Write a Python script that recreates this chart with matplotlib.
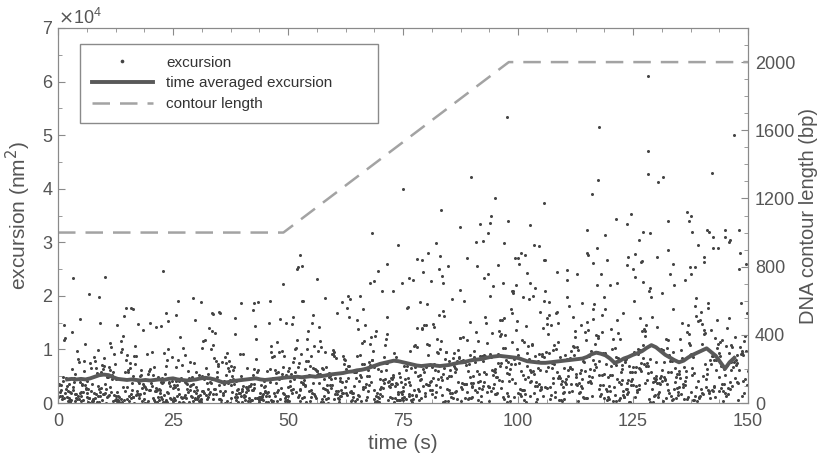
import matplotlib.pyplot as plt
import numpy as np
from matplotlib.ticker import MultipleLocator, ScalarFormatter

plt.rcParams['font.family'] = ['Liberation Sans', 'DejaVu Sans']

# excursion samples, units of 100 nm^2, 10 samples per second, one list per 25 s
exc_0_25 = [
    12, 3, 58, 27, 8, 104, 19, 41, 2, 66, 15, 33, 7, 150, 22, 5, 72, 38, 11, 95, 1, 29, 49, 17, 36,
    6, 81, 24, 13, 44, 0, 118, 31, 9, 55, 20, 4, 63, 35, 16, 88, 10, 26, 2, 141, 39, 14, 52, 21, 7,
    30, 11, 76, 3, 43, 18, 99, 25, 6, 60, 13, 37, 1, 84, 23, 47, 9, 125, 28, 16, 68, 4, 34, 19, 57,
    8, 40, 15, 92, 27, 2, 51, 21, 110, 12, 32, 5, 70, 17, 42, 0, 163, 24, 10, 61, 36, 14, 79, 3, 46,
    20, 6, 54, 31, 13, 87, 1, 26, 45, 9, 132, 18, 38, 4, 65, 22, 11, 97, 29, 7, 48, 16, 74, 2, 35,
    14, 59, 3, 28, 106, 19, 41, 8, 67, 24, 0, 50, 12, 36, 178, 5, 82, 21, 30, 10, 56, 17, 93, 6, 44,
    25, 9, 71, 15, 39, 2, 116, 22, 47, 11, 62, 33, 4, 89, 18, 7, 53, 27, 146, 13, 37, 1, 78, 20, 43,
    5, 64, 16, 32, 10, 101, 23, 3, 49, 28, 14, 85, 8, 40, 19, 58, 0, 121, 26, 12, 69, 34, 6, 96, 21,
    17, 42, 7, 75, 30, 2, 55, 15, 137, 24, 9, 61, 38, 13, 91, 4, 46, 20, 11, 80, 28, 1, 52, 18, 35,
    10, 86, 23, 5, 48, 16, 112, 31, 8, 66, 14, 39, 3, 73, 25, 12, 57, 0, 100, 19, 44, 6, 63, 27, 15]
exc_25_50 = [
    4, 37, 19, 88, 11, 52, 2, 27, 135, 14, 45, 8, 69, 23, 1, 58, 31, 16, 103, 6, 40, 21, 77, 10, 33,
    26, 13, 61, 3, 94, 18, 42, 7, 29, 156, 12, 50, 20, 0, 72, 35, 9, 115, 24, 5, 47, 15, 83, 30, 11,
    2, 56, 22, 38, 8, 124, 17, 65, 28, 4, 44, 13, 90, 34, 6, 53, 19, 1, 107, 25, 41, 10, 68, 16, 32,
    21, 7, 79, 12, 46, 27, 3, 98, 15, 36, 60, 9, 170, 24, 5, 49, 18, 86, 33, 0, 62, 14, 39, 11, 113,
    18, 43, 5, 71, 26, 10, 54, 1, 128, 20, 35, 8, 64, 29, 15, 92, 3, 48, 22, 12, 81, 38, 6, 57, 25,
    9, 30, 102, 16, 4, 67, 23, 41, 13, 59, 0, 143, 28, 7, 51, 19, 36, 75, 11, 2, 45, 21, 96, 14, 34,
    31, 12, 48, 6, 87, 22, 17, 63, 2, 39, 120, 10, 55, 26, 14, 74, 4, 33, 16, 108, 27, 8, 52, 20, 1,
    15, 70, 25, 3, 44, 11, 95, 32, 19, 58, 6, 140, 23, 37, 9, 66, 13, 0, 84, 29, 47, 5, 61, 18, 40,
    7, 53, 14, 118, 26, 2, 76, 35, 10, 42, 20, 91, 4, 30, 60, 17, 12, 131, 24, 49, 8, 68, 1, 38, 22,
    28, 3, 65, 19, 46, 13, 85, 6, 34, 100, 15, 24, 57, 0, 41, 9, 78, 31, 18, 50, 11, 149, 27, 5, 36]
exc_50_75 = [
    14, 66, 3, 41, 120, 25, 8, 77, 33, 52, 1, 150, 19, 45, 11, 92, 30, 6, 60, 22, 108, 37, 16, 71, 4,
    28, 58, 12, 135, 40, 2, 84, 21, 49, 9, 65, 177, 26, 15, 99, 35, 5, 54, 18, 74, 43, 10, 123, 31, 63,
    7, 46, 23, 88, 13, 57, 0, 112, 38, 17, 69, 29, 4, 96, 50, 20, 142, 11, 61, 34, 8, 80, 24, 44, 15,
    36, 3, 73, 19, 103, 48, 27, 6, 64, 160, 14, 39, 87, 22, 10, 55, 31, 129, 2, 47, 70, 18, 95, 42, 9,
    25, 81, 12, 51, 34, 116, 5, 62, 21, 43, 190, 16, 76, 30, 1, 58, 39, 100, 13, 67, 26, 8, 90, 48, 19,
    41, 10, 68, 28, 145, 17, 53, 3, 85, 36, 22, 110, 60, 7, 46, 32, 78, 14, 126, 50, 24, 4, 94, 37, 63,
    16, 75, 33, 5, 56, 98, 21, 44, 12, 168, 39, 66, 2, 88, 29, 52, 18, 134, 45, 9, 72, 31, 107, 15, 59,
    27, 92, 11, 49, 38, 6, 120, 64, 23, 80, 42, 14, 155, 35, 70, 19, 3, 101, 56, 30, 86, 13, 47, 210, 25,
    8, 61, 40, 115, 18, 74, 32, 1, 97, 54, 26, 138, 44, 12, 83, 63, 20, 50, 176, 36, 9, 69, 28, 91, 46,
    34, 16, 104, 58, 5, 79, 41, 24, 148, 67, 13, 53, 88, 30, 2, 118, 45, 72, 21, 60, 195, 38, 10, 84, 51]
exc_75_100 = [
    22, 95, 48, 7, 140, 63, 30, 180, 15, 76, 41, 110, 3, 58, 230, 26, 88, 12, 67, 35, 125, 51, 19, 160, 70,
    44, 9, 102, 31, 78, 200, 17, 55, 132, 4, 90, 38, 64, 24, 255, 13, 73, 47, 118, 28, 6, 84, 150, 36, 59,
    11, 68, 145, 40, 23, 97, 2, 60, 175, 33, 81, 16, 108, 50, 27, 220, 72, 8, 128, 43, 93, 20, 61, 165, 37,
    56, 18, 86, 130, 5, 66, 39, 113, 25, 190, 49, 14, 79, 32, 100, 62, 10, 155, 45, 21, 240, 70, 29, 98, 1,
    35, 122, 52, 15, 83, 28, 168, 42, 9, 74, 104, 19, 57, 270, 34, 89, 12, 138, 65, 3, 47, 116, 24, 76, 185,
    30, 60, 8, 96, 41, 210, 17, 71, 135, 26, 50, 87, 6, 119, 38, 158, 64, 22, 92, 13, 43, 300, 55, 33, 78,
    16, 106, 46, 2, 82, 148, 36, 69, 23, 195, 54, 11, 94, 31, 127, 58, 7, 85, 40, 172, 20, 63, 109, 27, 48,
    67, 4, 88, 37, 142, 21, 75, 53, 10, 112, 44, 250, 29, 80, 14, 99, 61, 34, 162, 5, 72, 39, 124, 18, 57,
    25, 79, 136, 12, 59, 42, 188, 70, 32, 8, 101, 51, 19, 146, 84, 28, 66, 3, 115, 45, 228, 35, 91, 15, 62,
    40, 154, 20, 73, 103, 9, 57, 30, 178, 48, 86, 13, 67, 121, 36, 1, 95, 54, 205, 24, 77, 43, 140, 11, 89]
exc_100_125 = [
    18, 74, 132, 40, 7, 97, 55, 25, 170, 63, 12, 88, 36, 220, 49, 3, 110, 70, 28, 145, 15, 59, 82, 33, 260,
    46, 10, 120, 65, 22, 93, 5, 150, 38, 77, 14, 105, 52, 195, 30, 68, 1, 128, 44, 85, 19, 61, 240, 26, 99,
    9, 57, 35, 160, 73, 16, 114, 48, 27, 86, 4, 138, 62, 20, 290, 42, 94, 11, 71, 31, 182, 53, 13, 108, 39,
    64, 24, 90, 6, 143, 50, 80, 17, 210, 37, 100, 58, 8, 125, 45, 29, 76, 155, 2, 67, 34, 117, 21, 87, 43,
    30, 135, 12, 69, 47, 185, 26, 95, 56, 3, 111, 39, 78, 250, 15, 60, 130, 32, 84, 10, 52, 168, 41, 23, 92,
    54, 8, 106, 36, 72, 20, 148, 61, 29, 200, 44, 14, 89, 66, 118, 5, 79, 35, 175, 25, 58, 97, 11, 140, 48,
    22, 83, 42, 127, 1, 68, 31, 102, 55, 230, 17, 75, 38, 152, 9, 91, 63, 27, 114, 46, 13, 81, 190, 34, 70,
    40, 19, 96, 57, 165, 28, 4, 87, 50, 133, 16, 73, 280, 36, 62, 107, 23, 45, 6, 157, 82, 30, 99, 53, 14,
    65, 121, 33, 7, 78, 44, 215, 21, 93, 59, 12, 137, 71, 26, 104, 48, 2, 85, 176, 37, 60, 18, 119, 41, 90,
    27, 57, 146, 10, 84, 39, 66, 198, 24, 101, 51, 15, 76, 123, 32, 94, 5, 62, 43, 159, 20, 74, 109, 35, 52]
exc_125_150 = [
    33, 102, 14, 76, 160, 48, 22, 91, 5, 130, 61, 37, 240, 18, 84, 55, 9, 115, 42, 196, 27, 69, 150, 11, 95,
    58, 26, 123, 40, 7, 88, 66, 175, 30, 104, 16, 52, 310, 73, 20, 137, 45, 3, 96, 62, 209, 35, 80, 12, 118,
    19, 71, 46, 145, 28, 99, 8, 63, 186, 38, 85, 13, 126, 54, 24, 260, 77, 41, 108, 2, 67, 155, 31, 90, 50,
    74, 15, 112, 36, 60, 220, 25, 93, 47, 6, 140, 70, 29, 87, 168, 43, 11, 105, 57, 34, 290, 21, 79, 128, 39,
    44, 89, 4, 134, 65, 23, 97, 51, 182, 17, 75, 119, 32, 60, 10, 155, 83, 27, 230, 48, 100, 14, 72, 38, 142,
    21, 64, 108, 9, 81, 42, 205, 30, 94, 56, 16, 121, 68, 35, 170, 86, 1, 59, 113, 26, 78, 45, 250, 12, 91,
    52, 138, 28, 73, 18, 99, 162, 40, 7, 84, 61, 190, 24, 110, 47, 13, 132, 70, 33, 95, 55, 280, 20, 66, 106,
    37, 15, 87, 125, 49, 3, 76, 215, 29, 103, 58, 19, 148, 80, 42, 11, 117, 63, 26, 178, 92, 36, 6, 71, 135,
    60, 23, 97, 44, 153, 31, 82, 8, 111, 67, 240, 17, 90, 50, 128, 22, 74, 39, 187, 13, 101, 56, 28, 145, 46,
    80, 34, 120, 10, 68, 198, 41, 93, 25, 57, 136, 5, 77, 108, 35, 265, 48, 19, 89, 62, 14, 159, 43, 99, 30]
segment_start = [0, 25, 50, 75, 100, 125]
segments = [exc_0_25, exc_25_50, exc_50_75, exc_75_100, exc_100_125, exc_125_150]

# sparse large excursions: time (s), excursion (100 nm^2)
outlier_t = [3.3, 10.2, 6.8, 8.9, 22.9, 29.4, 31.0, 26.0, 39.7, 43.4, 46.0, 48.9, 52.0, 52.6,
             15.9, 16.3, 23.5, 4.8, 33.5, 35.2, 42.6, 49.5, 51.0, 24.0, 22.4, 25.7, 29.8, 33.7,
             38.5, 17.4, 12.8, 9.1, 52.2, 53.0, 56.3, 42.4, 80.4, 79.1, 78.0, 83.0, 71.5, 69.6,
             79.3, 67.8, 68.7, 76.3, 74.8, 83.5, 83.7, 72.8, 65.7, 63.0, 58.0, 61.7, 53.3, 55.4,
             71.5, 97.6, 128.3, 117.6, 128.3, 147.0, 128.3, 117.4, 130.4, 131.5, 142.2, 116.1,
             105.7, 97.8, 102.6, 97.0, 99.4, 100.7, 101.5, 103.5, 104.6, 105.7, 115.0, 115.2,
             116.3, 118.9, 119.3, 121.3, 123.7, 124.5, 123.9, 123.7, 125.4, 126.7, 126.3, 127.2,
             128.7, 130.2, 132.6, 132.6, 133.7, 136.7, 137.6, 137.2, 137.8, 139.1, 140.4, 140.4,
             141.1, 141.5, 142.4, 142.4, 145.0, 146.1, 145.9, 148.0, 137.4, 138.5, 89.8, 75.0,
             83.3, 95.0, 68.3, 73.9, 82.2, 87.4, 94.1, 91.7, 93.9, 93.5, 92.4, 88.9, 95.7, 91.0,
             105.9, 110.6, 92.6, 96.7, 102.0, 102.6, 108.5, 112.8, 117.2, 121.5, 125.4, 127.2,
             87.4, 94.6, 98.7, 101.0, 106.7, 104.8, 110.6, 113.9, 118.3, 122.8, 126.5, 96.1, 89.6]
outlier_y = [233, 235, 203, 198, 246, 196, 188, 190, 186, 188, 190, 222, 250, 276,
             177, 175, 168, 157, 168, 168, 186, 150, 160, 153, 144, 164, 155, 166,
             159, 147, 146, 149, 254, 256, 231, 173, 280, 267, 269, 274, 259, 246,
             244, 224, 228, 233, 224, 237, 224, 209, 200, 200, 196, 188, 190, 164,
             160, 533, 610, 515, 470, 500, 427, 416, 412, 422, 429, 390,
             373, 340, 332, 298, 270, 280, 276, 295, 293, 267, 323, 276,
             261, 313, 267, 343, 334, 352, 272, 258, 278, 263, 304, 319,
             317, 272, 339, 286, 259, 356, 350, 339, 319, 295, 272, 263,
             323, 319, 310, 289, 323, 304, 300, 323, 254, 254, 422, 399,
             360, 382, 317, 295, 298, 328, 349, 334, 336, 317, 302, 270, 257, 256,
             267, 248, 233, 224, 243, 224, 244, 241, 220, 224, 235, 226,
             211, 218, 209, 198, 188, 170, 198, 186, 164, 168, 159, 155, 151]

# time averaged excursion, one value per second from t = 2 s (100 nm^2)
avg_start = 2
avg_values = [44, 45, 44, 45, 44, 46, 49, 52, 53,
              52, 48, 45, 44, 43, 44, 43, 42, 43, 42,
              43, 44, 43, 45, 46, 44, 43, 42, 43, 44,
              46, 47, 46, 44, 41, 38, 39, 41, 42, 43,
              44, 45, 46, 44, 43, 44, 45, 46, 47, 48,
              48, 49, 48, 49, 50, 49, 50, 51, 53, 54,
              55, 56, 58, 59, 61, 62, 64, 67, 70, 73,
              75, 77, 79, 78, 76, 74, 72, 70, 69, 70,
              71, 70, 69, 70, 71, 73, 75, 76, 78, 80,
              81, 82, 84, 86, 87, 88, 87, 86, 85, 84,
              81, 78, 77, 76, 75, 75, 76, 77, 78, 79,
              80, 81, 82, 83, 86, 91, 94, 92, 89, 83,
              75, 78, 83, 86, 90, 93, 97, 103, 108, 104,
              97, 90, 85, 80, 76, 79, 85, 90, 94, 98,
              102, 95, 88, 76, 64, 76, 84]

# DNA contour length (bp)
contour_t = [0, 49, 98, 150]
contour_bp = [1000, 1000, 2000, 2000]

text_c = '#555555'
spine_c = '#8a8a8a'

# each segment's samples sit on a 0.1 s grid; the written order is spread over the grid
t_all, y_all = [], []
for start, vals in zip(segment_start, segments):
    n = len(vals)
    slot = (np.arange(n) * 73) % n
    t_all += list(start + 0.1 * slot)
    y_all += vals
t_all += outlier_t
y_all += outlier_y
t_all = np.array(t_all)
y_all = np.array(y_all) * 100.0

avg_t = avg_start + np.arange(len(avg_values))
avg_y = np.array(avg_values) * 100.0

fig = plt.figure(figsize=(8.22, 4.55), dpi=100)
ax = fig.add_axes([58 / 822, 52 / 455, 690 / 822, 375 / 455])
ax2 = ax.twinx()

h1, = ax.plot(t_all, y_all, 'o', ms=2.2, mew=0, color='#444444', label='excursion')
h2, = ax.plot(avg_t, avg_y, '-', lw=2.8, color='#595959', label='time averaged excursion')
h3, = ax2.plot(contour_t, contour_bp, '--', lw=1.8, color='#a3a3a3', dashes=(7, 4),
               label='contour length')

ax.set_xlim(0, 150)
ax.set_ylim(0, 7e4)
ax2.set_ylim(0, 2200)

ax.set_xticks([0, 25, 50, 75, 100, 125, 150])
ax.xaxis.set_minor_locator(MultipleLocator(6.25))
ax.set_yticks(np.arange(0, 7.1e4, 1e4))
ax.yaxis.set_minor_locator(MultipleLocator(5e3))
ax2.set_yticks([0, 400, 800, 1200, 1600, 2000])
ax2.yaxis.set_minor_locator(MultipleLocator(100))

fmt = ScalarFormatter(useMathText=True)
fmt.set_powerlimits((0, 0))
ax.yaxis.set_major_formatter(fmt)

ax.tick_params(which='both', direction='in', top=True, right=False, colors=spine_c,
               labelcolor=text_c, labelsize=13)
ax.tick_params(which='major', length=5)
ax.tick_params(which='minor', length=3)
ax.tick_params(axis='x', pad=7)
ax2.tick_params(which='both', direction='in', colors=spine_c, labelcolor=text_c, labelsize=13)
ax2.tick_params(which='major', length=5, pad=5)
ax2.tick_params(which='minor', length=3)
ax.yaxis.get_offset_text().set_color(text_c)
ax.yaxis.get_offset_text().set_fontsize(13)

for a in (ax, ax2):
    for s in a.spines.values():
        s.set_color(spine_c)

ax.set_xlabel('time (s)', fontsize=15, color=text_c, labelpad=3)
ax.set_ylabel('excursion (nm$^2$)', fontsize=15, color=text_c, labelpad=6)
ax2.set_ylabel('DNA contour length (bp)', fontsize=14.5, color=text_c, labelpad=3)

leg = ax2.legend([h1, h2, h3],
                 ['excursion', 'time averaged excursion        ', 'contour length'],
                 loc='upper left', bbox_to_anchor=(0.032, 0.957), borderaxespad=0,
                 fontsize=11, handlelength=4.0, markerscale=1.2, fancybox=False,
                 framealpha=1, borderpad=0.75, labelspacing=0.45, handletextpad=0.9)
leg.get_frame().set_edgecolor(spine_c)
leg.get_frame().set_linewidth(1)
for txt in leg.get_texts():
    txt.set_color('#333333')

fig.savefig('out.png', dpi=100)
